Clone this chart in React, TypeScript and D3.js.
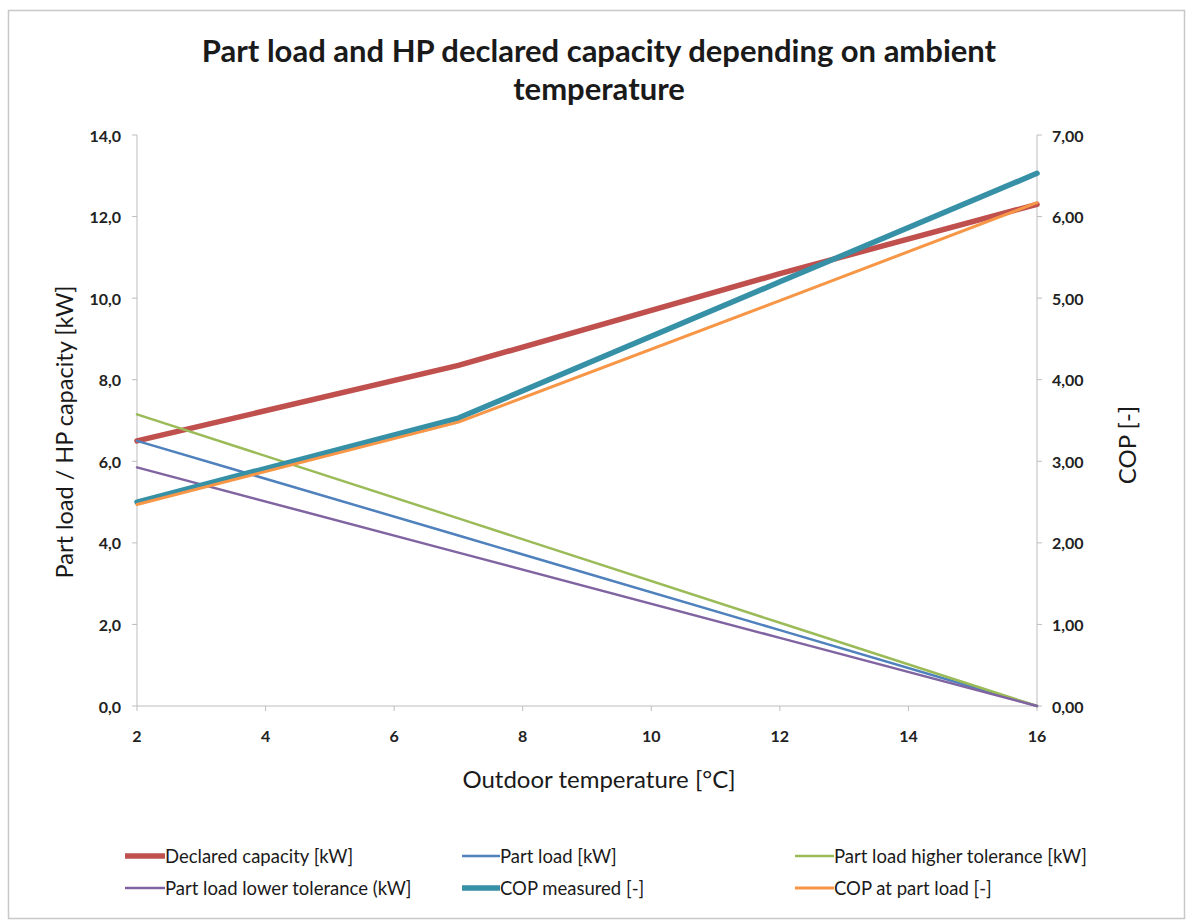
import React from "react";
import * as d3 from "d3";

const temps = [2, 7, 12, 16];
const declaredCapacity = [6.5, 8.35, 10.6, 12.3];
const partLoad = [6.5, 4.18, 1.86, 0];
const partLoadHigher = [7.15, 4.6, 2.04, 0];
const partLoadLower = [5.85, 3.76, 1.67, 0];
const copMeasured = [2.5, 3.53, 5.2, 6.53];
const copPartLoad = [2.47, 3.48, 4.97, 6.17];

const xTicks = [2, 4, 6, 8, 10, 12, 14, 16];
const yLeftTicks = [0, 2, 4, 6, 8, 10, 12, 14];
const yRightTicks = [0, 1, 2, 3, 4, 5, 6, 7];

const titleLines = ["Part load and HP declared capacity depending on ambient", "temperature"];
const xTitle = "Outdoor temperature [°C]";
const yLeftTitle = "Part load / HP capacity [kW]";
const yRightTitle = "COP [-]";

type S = { name: string; values: number[]; axis: "L" | "R"; color: string; width: number };
const series: S[] = [
  { name: "Declared capacity [kW]", values: declaredCapacity, axis: "L", color: "#c0504d", width: 5.5 },
  { name: "Part load [kW]", values: partLoad, axis: "L", color: "#4f81bd", width: 2.5 },
  { name: "Part load higher tolerance [kW]", values: partLoadHigher, axis: "L", color: "#9bbb59", width: 2.5 },
  { name: "Part load lower tolerance (kW]", values: partLoadLower, axis: "L", color: "#8064a2", width: 2.5 },
  { name: "COP measured [-]", values: copMeasured, axis: "R", color: "#3691a6", width: 5.5 },
  { name: "COP at part load [-]", values: copPartLoad, axis: "R", color: "#f79646", width: 3 },
];

const FONT = "Lato, 'Open Sans', sans-serif";

export default function App() {
  const x = d3.scaleLinear().domain([2, 16]).range([137, 1037]);
  const yL = d3.scaleLinear().domain([0, 14]).range([706, 135]);
  const yR = d3.scaleLinear().domain([0, 7]).range([706, 135]);
  const fmt1 = (v: number) => d3.format(".1f")(v).replace(".", ",");
  const fmt2 = (v: number) => d3.format(".2f")(v).replace(".", ",");

  const legendPos = [
    { sx: 125, tx: 165, y: 856 },
    { sx: 462, tx: 500, y: 856 },
    { sx: 795, tx: 834, y: 856 },
    { sx: 125, tx: 165, y: 888 },
    { sx: 462, tx: 500, y: 888 },
    { sx: 795, tx: 834, y: 888 },
  ];

  return (
    <svg
      width={1192}
      height={923}
      style={{ position: "absolute", left: 0, top: 0, background: "#fff" }}
      fontFamily={FONT}
    >
      <rect x={8.5} y={10.5} width={1176} height={908} fill="#fff" stroke="#c8c8c8" strokeWidth={1.5} />
      {titleLines.map((t, i) => (
        <text key={i} x={599} y={50 + i * 38} textAnchor="middle" dominantBaseline="central" fontSize={31} fontWeight={700} fill="#1a1a1a">
          {t}
        </text>
      ))}
      {/* axes */}
      <line x1={137} x2={137} y1={135} y2={706} stroke="#bdbdbd" />
      <line x1={1037} x2={1037} y1={135} y2={706} stroke="#bdbdbd" />
      <line x1={137} x2={1037} y1={706} y2={706} stroke="#bdbdbd" />
      {yLeftTicks.map((t) => (
        <g key={"l" + t}>
          <line x1={132} x2={137} y1={yL(t)} y2={yL(t)} stroke="#bdbdbd" />
          <text x={121} y={yL(t)} textAnchor="end" dominantBaseline="central" fontSize={16} fontWeight={700} fill="#222">
            {fmt1(t)}
          </text>
        </g>
      ))}
      {yRightTicks.map((t) => (
        <g key={"r" + t}>
          <line x1={1037} x2={1042} y1={yR(t)} y2={yR(t)} stroke="#bdbdbd" />
          <text x={1052} y={yR(t)} textAnchor="start" dominantBaseline="central" fontSize={16} fontWeight={700} fill="#222">
            {fmt2(t)}
          </text>
        </g>
      ))}
      {xTicks.map((t) => (
        <g key={"x" + t}>
          <line x1={x(t)} x2={x(t)} y1={706} y2={711} stroke="#bdbdbd" />
          <text x={x(t)} y={735} textAnchor="middle" dominantBaseline="central" fontSize={16} fontWeight={700} fill="#222">
            {t}
          </text>
        </g>
      ))}
      <text x={599} y={778} textAnchor="middle" dominantBaseline="central" fontSize={24} fill="#1a1a1a">
        {xTitle}
      </text>
      <text transform={`translate(64,432) rotate(-90)`} textAnchor="middle" dominantBaseline="central" fontSize={23.5} fill="#1a1a1a">
        {yLeftTitle}
      </text>
      <text transform={`translate(1126,445) rotate(-90)`} textAnchor="middle" dominantBaseline="central" fontSize={24} fill="#1a1a1a">
        {yRightTitle}
      </text>
      {series.map((s) => {
        const yy = s.axis === "L" ? yL : yR;
        const line = d3
          .line<number>()
          .x((_, i) => x(temps[i]))
          .y((v) => yy(v));
        return (
          <path key={s.name} d={line(s.values) || ""} fill="none" stroke={s.color} strokeWidth={s.width} strokeLinejoin="round" strokeLinecap="round" />
        );
      })}
      {series.map((s, i) => {
        const p = legendPos[i];
        return (
          <g key={"lg" + i}>
            <line x1={p.sx} x2={p.tx} y1={p.y} y2={p.y} stroke={s.color} strokeWidth={s.width} />
            <text x={p.tx} y={p.y} dominantBaseline="central" fontSize={18.5} fill="#1a1a1a">
              {s.name}
            </text>
          </g>
        );
      })}
    </svg>
  );
}
